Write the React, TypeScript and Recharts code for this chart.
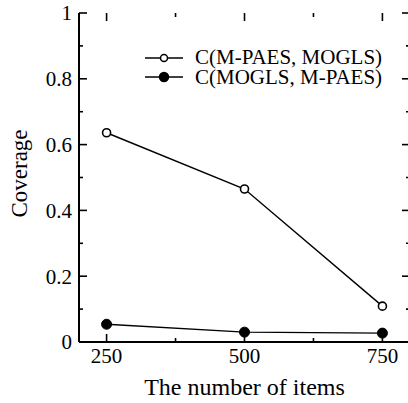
import { LineChart, Line, XAxis, YAxis, Legend, ReferenceLine } from "recharts";

const items = [250, 500, 750];
const mpaesOverMogls = [0.636, 0.465, 0.109];
const moglsOverMpaes = [0.054, 0.03, 0.027];

const xTicks = [250, 375, 500, 625, 750];
const xLabelled = [250, 500, 750];
const yTicks = [0, 0.1, 0.2, 0.3, 0.4, 0.5, 0.6, 0.7, 0.8, 0.9, 1];

const seriesNames = ["C(M-PAES, MOGLS)", "C(MOGLS, M-PAES)"];

const FONT = "Liberation Serif";

const CHART_W = 420;
const CHART_H = 403;
const MARGIN = { top: 13, right: 10, bottom: 0, left: 0 };
const Y_AXIS_W = 79;
const X_AXIS_H = 61;
const X_DOMAIN = [200, 800];
const Y_DOMAIN = [0, 1];
const PLOT_W = CHART_W - MARGIN.left - MARGIN.right - Y_AXIS_W;
const PLOT_H = CHART_H - MARGIN.top - MARGIN.bottom - X_AXIS_H;

// tick length in pixels -> data units, so the inward ticks can be drawn as segments
const dx = (px: number) => (px * (X_DOMAIN[1] - X_DOMAIN[0])) / PLOT_W;
const dy = (px: number) => (px * (Y_DOMAIN[1] - Y_DOMAIN[0])) / PLOT_H;

const chartData = items.map((n, i) => ({
  items: n,
  a: mpaesOverMogls[i],
  b: moglsOverMpaes[i],
}));

const isMajorY = (v: number) => Math.round(v * 10) % 2 === 0;
const xLen = (v: number) => (xLabelled.includes(v) ? 8 : 4);
const yLen = (v: number) => (isMajorY(v) ? 8 : 4);

const tickFont = { fontFamily: FONT, fontSize: 21, fill: "#000" };

const YLabel = (props: any) => {
  const { viewBox } = props;
  const cx = 19;
  const cy = viewBox.y + viewBox.height / 2 - 4;
  return (
    <text
      x={cx}
      y={cy}
      transform={`rotate(-90, ${cx}, ${cy})`}
      textAnchor="middle"
      dominantBaseline="central"
      fontFamily={FONT}
      fontSize={23}
      fill="#000"
    >
      Coverage
    </text>
  );
};

const XLabel = (props: any) => {
  const { viewBox } = props;
  const cx = viewBox.x + viewBox.width / 2;
  return (
    <text x={cx} y={395} textAnchor="middle" fontFamily={FONT} fontSize={24} fill="#000">
      The number of items
    </text>
  );
};

const LegendBox = () => (
  <div style={{ fontFamily: FONT, fontSize: 21, color: "#000", lineHeight: "19.5px" }}>
    {seriesNames.map((name, i) => (
      <div key={name} style={{ display: "flex", alignItems: "center", height: 19.5, whiteSpace: "nowrap" }}>
        <svg width={38} height={14} style={{ marginRight: 12 }}>
          <line x1={0} y1={7} x2={38} y2={7} stroke="#000" strokeWidth={1.4} />
          <circle cx={19} cy={7} r={i === 0 ? 3.5 : 4.5} fill={i === 0 ? "#fff" : "#000"} stroke="#000" strokeWidth={1.5} />
        </svg>
        <span>{name}</span>
      </div>
    ))}
  </div>
);

const tickStroke = { stroke: "#000", strokeWidth: 1.6, ifOverflow: "visible" as const };

export default function App() {
  return (
    <div style={{ position: "fixed", left: 0, top: 0, width: 408, height: 403, overflow: "hidden", background: "#fff" }}>
      <LineChart width={CHART_W} height={CHART_H} data={chartData} margin={MARGIN}>
        <XAxis
          dataKey="items"
          type="number"
          domain={X_DOMAIN}
          ticks={xTicks}
          interval={0}
          height={X_AXIS_H}
          tickSize={0}
          tickMargin={6}
          tickLine={false}
          axisLine={{ stroke: "#000", strokeWidth: 2 }}
          tick={tickFont}
          tickFormatter={(v: number) => (xLabelled.includes(v) ? String(v) : "")}
          label={<XLabel />}
        />
        <XAxis
          xAxisId="top"
          orientation="top"
          dataKey="items"
          type="number"
          domain={X_DOMAIN}
          height={0}
          tick={false}
          tickLine={false}
          axisLine={{ stroke: "#000", strokeWidth: 2 }}
        />
        <YAxis
          type="number"
          domain={Y_DOMAIN}
          ticks={yTicks}
          interval={0}
          width={Y_AXIS_W}
          tickSize={0}
          tickMargin={7}
          tickLine={false}
          axisLine={{ stroke: "#000", strokeWidth: 2 }}
          tick={tickFont}
          tickFormatter={(v: number) => (isMajorY(v) ? String(Math.round(v * 10) / 10) : "")}
          label={<YLabel />}
        />
        <YAxis
          yAxisId="right"
          orientation="right"
          type="number"
          domain={Y_DOMAIN}
          width={0}
          tick={false}
          tickLine={false}
          axisLine={{ stroke: "#000", strokeWidth: 2 }}
        />
        <Legend
          layout="horizontal"
          verticalAlign="middle"
          align="center"
          content={<LegendBox />}
          wrapperStyle={{ position: "absolute", left: 145, top: 48, width: "auto", height: "auto" }}
        />
        <Line
          dataKey="a"
          name={seriesNames[0]}
          stroke="#000"
          strokeWidth={1.4}
          dot={{ r: 4, fill: "#fff", stroke: "#000", strokeWidth: 1.6 }}
          isAnimationActive={false}
        />
        <Line
          dataKey="b"
          name={seriesNames[1]}
          stroke="#000"
          strokeWidth={1.4}
          dot={{ r: 5, fill: "#000", stroke: "#000", strokeWidth: 1 }}
          isAnimationActive={false}
        />
        {xTicks.map((v) => (
          <ReferenceLine
            key={`xb-${v}`}
            segment={[{ x: v, y: Y_DOMAIN[0] + dy(xLen(v)) }, { x: v, y: Y_DOMAIN[0] }]}
            {...tickStroke}
          />
        ))}
        {xTicks.map((v) => (
          <ReferenceLine
            key={`xt-${v}`}
            segment={[{ x: v, y: Y_DOMAIN[1] }, { x: v, y: Y_DOMAIN[1] - dy(xLen(v)) }]}
            {...tickStroke}
          />
        ))}
        {yTicks.map((v) => (
          <ReferenceLine
            key={`yl-${v}`}
            segment={[{ x: X_DOMAIN[0] + dx(yLen(v)), y: v }, { x: X_DOMAIN[0], y: v }]}
            {...tickStroke}
          />
        ))}
        {yTicks.map((v) => (
          <ReferenceLine
            key={`yr-${v}`}
            segment={[{ x: X_DOMAIN[1], y: v }, { x: X_DOMAIN[1] - dx(yLen(v)), y: v }]}
            {...tickStroke}
          />
        ))}
      </LineChart>
    </div>
  );
}
